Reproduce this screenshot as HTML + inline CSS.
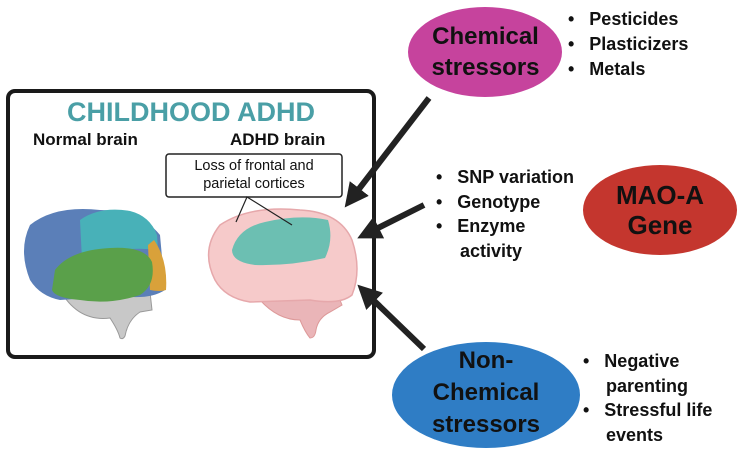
<!DOCTYPE html>
<html><head><meta charset="utf-8"><style>
html,body{margin:0;padding:0;background:#fff}
body{width:742px;height:455px;position:relative;overflow:hidden;font-family:"Liberation Sans",sans-serif}
.t{position:absolute;font-weight:bold;color:#111;white-space:nowrap}
</style></head><body>
<svg width="742" height="455" style="position:absolute;left:0;top:0">
<defs><marker id="ah" markerWidth="4" markerHeight="4" refX="2" refY="2" orient="auto" markerUnits="strokeWidth"><path d="M0,0 L4,2 L0,4 z" fill="#222"/></marker></defs>
<rect x="8" y="91" width="366" height="266" rx="7" fill="#fff" stroke="#1a1a1a" stroke-width="4"/>
<!-- normal brain -->
<path d="M60,290 Q78,322 110,318 Q118,330 120,338 Q123,340 125,336 Q128,320 140,312 L152,310 L150,292 Z" fill="#c8c8c8" stroke="#999" stroke-width="1"/>
<path d="M30,280 Q18,250 30,225 Q55,205 100,210 Q140,210 160,235 L165,290 Q150,300 120,296 L60,300 Q40,296 30,280 Z" fill="#5b7fb8"/>
<path d="M80,220 Q100,206 130,211 Q150,216 157,235 L158,250 Q120,245 82,260 Z" fill="#48b1b8"/>
<path d="M154,240 Q168,260 166,290 Q160,292 150,290 L148,245 Z" fill="#d9a13a"/>
<path d="M55,270 Q70,250 110,248 Q145,246 152,262 Q156,285 140,295 Q110,305 80,300 Q55,298 52,290 Z" fill="#5aa04a"/>
<!-- adhd brain -->
<path d="M260,300 Q278,320 300,320 Q305,332 310,338 Q315,338 316,330 Q318,318 330,312 L342,305 L338,295 Z" fill="#eab5b8" stroke="#d99" stroke-width="1"/>
<path d="M215,280 Q200,250 220,225 Q250,205 300,210 Q340,212 352,240 Q362,270 352,295 Q340,305 310,300 L250,302 Q225,298 215,280 Z" fill="#f6caca" stroke="#e6a8ab" stroke-width="1.5"/>
<path d="M232,250 Q238,228 265,222 Q300,214 328,220 Q334,240 325,258 Q290,266 255,265 Q232,262 232,250 Z" fill="#6cbfb2"/>
<rect x="166" y="154" width="176" height="43" rx="3" fill="#fff" stroke="#222" stroke-width="1.5"/>
<polyline points="236,222 247,197 292,225" fill="none" stroke="#222" stroke-width="1.2"/>
<!-- ellipses -->
<ellipse cx="485" cy="52" rx="77" ry="45" fill="#c6439d"/>
<ellipse cx="660" cy="210" rx="77" ry="45" fill="#c4362e"/>
<ellipse cx="486" cy="395" rx="94" ry="53" fill="#2f7dc5"/>
<!-- arrows -->
<line x1="429" y1="98" x2="352" y2="198" stroke="#222" stroke-width="6" marker-end="url(#ah)"/>
<line x1="424" y1="205" x2="368" y2="233" stroke="#222" stroke-width="6" marker-end="url(#ah)"/>
<line x1="424" y1="349" x2="366" y2="293" stroke="#222" stroke-width="6" marker-end="url(#ah)"/>
</svg>
<div class="t" style="left:8px;width:366px;top:97px;text-align:center;font-size:27px;color:#4a9fa6">CHILDHOOD ADHD</div>
<div class="t" style="left:33px;top:130px;font-size:17px">Normal brain</div>
<div class="t" style="left:230px;top:130px;font-size:17px">ADHD brain</div>
<div class="t" style="left:166px;width:176px;top:157px;text-align:center;font-size:14.5px;font-weight:normal;line-height:18px">Loss of frontal and<br>parietal cortices</div>
<div class="t" style="left:408px;width:155px;top:21px;text-align:center;font-size:24px;line-height:31px">Chemical<br>stressors</div>
<div class="t" style="left:583px;width:154px;top:180px;text-align:center;font-size:26px;line-height:30px">MAO-A<br>Gene</div>
<div class="t" style="left:392px;width:188px;top:345px;text-align:center;font-size:24px;line-height:32px">Non-<br>Chemical<br>stressors</div>
<div class="t" style="left:568px;top:7px;font-size:18px;line-height:25px">•&nbsp;&nbsp; Pesticides<br>•&nbsp;&nbsp; Plasticizers<br>•&nbsp;&nbsp; Metals</div>
<div class="t" style="left:436px;top:165px;font-size:18px;line-height:24.5px">•&nbsp;&nbsp; SNP variation<br>•&nbsp;&nbsp; Genotype<br>•&nbsp;&nbsp; Enzyme<br><span style="padding-left:24px">activity</span></div>
<div class="t" style="left:583px;top:349px;font-size:18px;line-height:24.5px">•&nbsp;&nbsp; Negative<br><span style="padding-left:23px">parenting</span><br>•&nbsp;&nbsp; Stressful life<br><span style="padding-left:23px">events</span></div>
</body></html>
